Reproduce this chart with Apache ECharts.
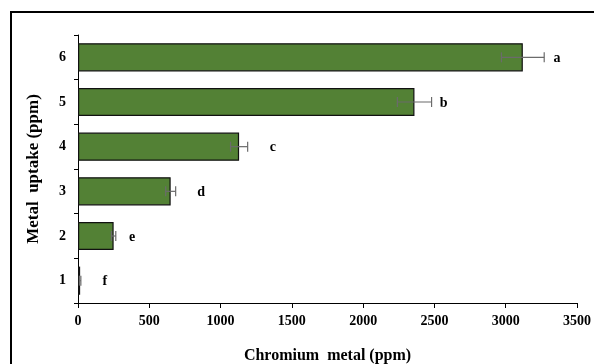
<!DOCTYPE html>
<html><head><meta charset="utf-8">
<script src="https://cdn.jsdelivr.net/npm/echarts@6/dist/echarts.min.js"></script>
<style>html,body{margin:0;padding:0;background:#fff}#c{width:594px;height:364px}</style>
</head><body><div id="c"></div>
<script>
var categories = ['1','2','3','4','5','6'];
var values = [15, 250, 650, 1130, 2360, 3120];
var errors = [5, 15, 35, 60, 120, 150];
var letters = ['f','e','d','c','b','a'];
var letterPos = [189, 379, 863, 1367, 2565, 3360];
var xTicks = [0,500,1000,1500,2000,2500,3000,3500];

var font = 'Liberation Serif';
var chart = echarts.init(document.getElementById('c'));
chart.setOption({
  animation:false,
  graphic:[{type:'rect',shape:{x:11,y:12,width:620,height:420},style:{fill:'none',stroke:'#000',lineWidth:2},silent:true}],
  grid:{left:78,right:17,top:35,bottom:61,outerBoundsMode:'none',containLabel:false},
  xAxis:{type:'value',min:0,max:3500,interval:500,
    name:'Chromium  metal (ppm)',nameLocation:'middle',nameGap:45,
    nameTextStyle:{fontFamily:font,fontWeight:'bold',fontSize:16,color:'#000'},
    axisLine:{show:true,lineStyle:{color:'#000',width:1}},
    axisTick:{show:true,length:5,lineStyle:{color:'#000'}},
    axisLabel:{fontFamily:font,fontWeight:'bold',fontSize:14,color:'#000',margin:11,
      formatter:function(v){return xTicks.indexOf(v)>=0?String(v):'';}},
    splitLine:{show:false}},
  yAxis:{type:'category',data:categories,
    name:'Metal  uptake (ppm)',nameLocation:'middle',nameGap:36,nameRotate:90,
    nameTextStyle:{fontFamily:font,fontWeight:'bold',fontSize:17,color:'#000'},
    axisLine:{show:true,lineStyle:{color:'#000',width:1}},
    axisTick:{show:true,length:4,lineStyle:{color:'#000'}},
    axisLabel:{fontFamily:font,fontWeight:'bold',fontSize:14,color:'#000',margin:12}},
  series:[
    {type:'bar',data:values,barWidth:'63%',
      itemStyle:{color:'#538135',borderColor:'#111',borderWidth:1.2}},
    {type:'custom',
      data:values.map(function(v,i){return [i,v,errors[i]];}),
      renderItem:function(params,api){
        var i=api.value(0),v=api.value(1),e=api.value(2);
        var lo=api.coord([v-e,i]),hi=api.coord([v+e,i]);
        var h=5;
        var st={stroke:'#6b6b6b',lineWidth:1.2};
        return {type:'group',children:[
          {type:'line',shape:{x1:lo[0],y1:lo[1],x2:hi[0],y2:hi[1]},style:st},
          {type:'line',shape:{x1:lo[0],y1:lo[1]-h,x2:lo[0],y2:lo[1]+h},style:st},
          {type:'line',shape:{x1:hi[0],y1:hi[1]-h,x2:hi[0],y2:hi[1]+h},style:st}
        ]};
      },
      encode:{x:1,y:0},z:5},
    {type:'custom',
      data:letterPos.map(function(v,i){return [i,v];}),
      renderItem:function(params,api){
        var p=api.coord([api.value(1),api.value(0)]);
        return {type:'text',style:{text:letters[params.dataIndex],x:p[0],y:p[1]+1,
          align:'center',verticalAlign:'middle',fontFamily:font,fontWeight:'bold',fontSize:14,fill:'#000'}};
      },
      encode:{x:1,y:0},z:6}
  ]
});
</script></body></html>
